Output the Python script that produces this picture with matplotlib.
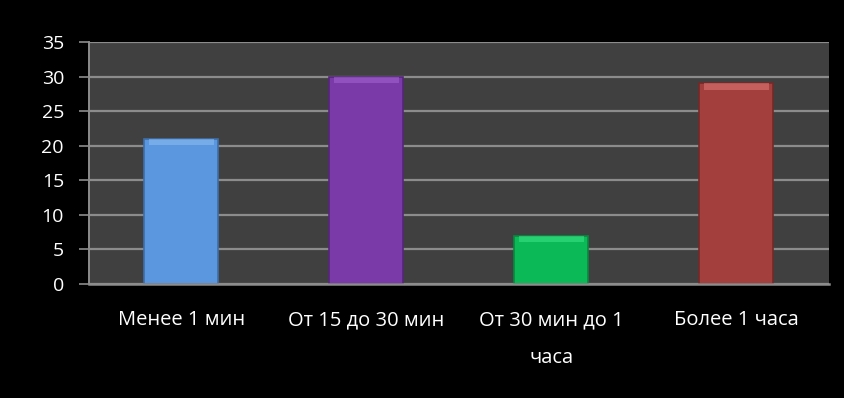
import numpy as np
import matplotlib.pyplot as plt

categories = ["Менее 1 мин", "От 15 до 30 мин", "От 30 мин до 1\nчаса", "Более 1 часа"]
values = [21, 30, 7, 29]
colors = ["#5B97DF", "#7A3AA8", "#0BB957", "#A3403E"]
top_colors = ["#8EC0F2", "#A567D4", "#3EE58A", "#E07A77"]
edge_colors = ["#3E6EA8", "#55267A", "#078A40", "#742A29"]
yticks = [0, 5, 10, 15, 20, 25, 30, 35]

plt.rcParams['font.family'] = ['Open Sans', 'DejaVu Sans']

fig = plt.figure(figsize=(8.45, 3.98), dpi=100, facecolor="black")
ax = fig.add_axes([0.1053, 0.2864, 0.8757, 0.6081])
ax.set_facecolor("#404040")

x = np.arange(len(values))
width = 0.4

ax.set_axisbelow(True)
ax.yaxis.grid(True, color="#8C8C8C", linewidth=1.6)

ax.bar(x, values, width=width, color=colors, edgecolor=edge_colors, linewidth=1.2, zorder=2)
# light bevel strip on top of each bar
bevel = 0.9
ax.bar(x, [bevel] * len(values), bottom=[v - bevel for v in values], width=width * 0.88,
       color=top_colors, alpha=0.55, linewidth=0, zorder=3)

ax.set_xlim(-0.5, len(values) - 0.5)
ax.set_ylim(0, 35)
ax.set_yticks(yticks)
ax.set_xticks(x)
ax.set_xticklabels(categories, fontsize=14.5, color="white", linespacing=2.15)
ax.tick_params(axis='x', length=0, pad=19)
ax.tick_params(axis='y', length=7, width=1.2, color="#8C8C8C", labelcolor="white",
               labelsize=14, pad=11)

for side in ["top", "right"]:
    ax.spines[side].set_visible(False)
ax.spines["left"].set_color("#8C8C8C")
ax.spines["bottom"].set_color("#8C8C8C")
ax.spines["left"].set_linewidth(1.4)
ax.spines["bottom"].set_linewidth(1.8)

fig.savefig("out.png", dpi=100, facecolor="black")
